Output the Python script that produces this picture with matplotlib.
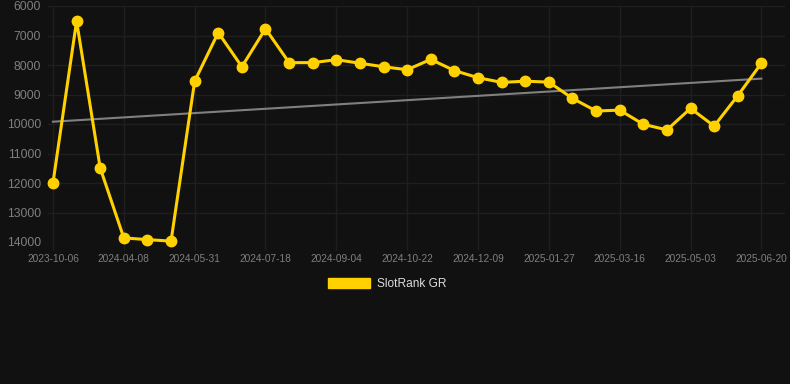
import numpy as np
from matplotlib import pyplot as plt
from matplotlib.patches import Patch

# rank values, one point every ~16 days
ranks = [12000, 6510, 11490, 13860, 13920, 13970, 8550, 6900, 8060, 6770,
         7920, 7920, 7820, 7940, 8060, 8160, 7810, 8190, 8430, 8590,
         8550, 8580, 9130, 9560, 9530, 10010, 10200, 9470, 10070, 9040, 7940]
tick_labels = ["2023-10-06", "2024-04-08", "2024-05-31", "2024-07-18", "2024-09-04",
               "2024-10-22", "2024-12-09", "2025-01-27", "2025-03-16", "2025-05-03",
               "2025-06-20"]
series_name = "SlotRank GR"

BG = "#111111"
GRID = "#1f1f1f"
YELLOW = "#FFD100"

plt.rcParams['font.family'] = ['Liberation Sans', 'DejaVu Sans']

fig = plt.figure(figsize=(7.9, 3.84), dpi=100, facecolor=BG)
ax = fig.add_axes([48 / 790, (384 - 242) / 384, 737 / 790, 236 / 384])
ax.set_facecolor(BG)

x = np.arange(len(ranks))
ax.plot(x, ranks, color=YELLOW, lw=2.2, marker="o", ms=7.5, zorder=3, clip_on=False)

# linear trend over the series
k, b = np.polyfit(x, ranks, 1)
ax.plot(x, k * x + b, color="#808080", lw=1.5, zorder=2)

ax.set_ylim(14000, 6000)
ax.set_yticks(range(6000, 14001, 1000))
ax.set_xlim(-0.21, 31.0)
ax.set_xticks(x[::3])
ax.set_xticklabels(tick_labels)

ax.grid(True, color=GRID, lw=1)
ax.set_axisbelow(True)
for s in ax.spines.values():
    s.set_visible(False)
ax.tick_params(axis="x", colors=GRID, length=6, width=1, labelcolor="#7f7f7f",
               labelsize=7.3, pad=3)
ax.tick_params(axis="y", length=0, labelcolor="#7f7f7f", labelsize=8.7, pad=5)

fig.legend(handles=[Patch(color=YELLOW, label=series_name)], loc="center",
           bbox_to_anchor=(0.49, 1 - 284 / 384), frameon=False, fontsize=8.6,
           labelcolor="#dddddd", handlelength=3.5, handleheight=1.0, handletextpad=0.6)

fig.savefig("out.png", facecolor=BG)
